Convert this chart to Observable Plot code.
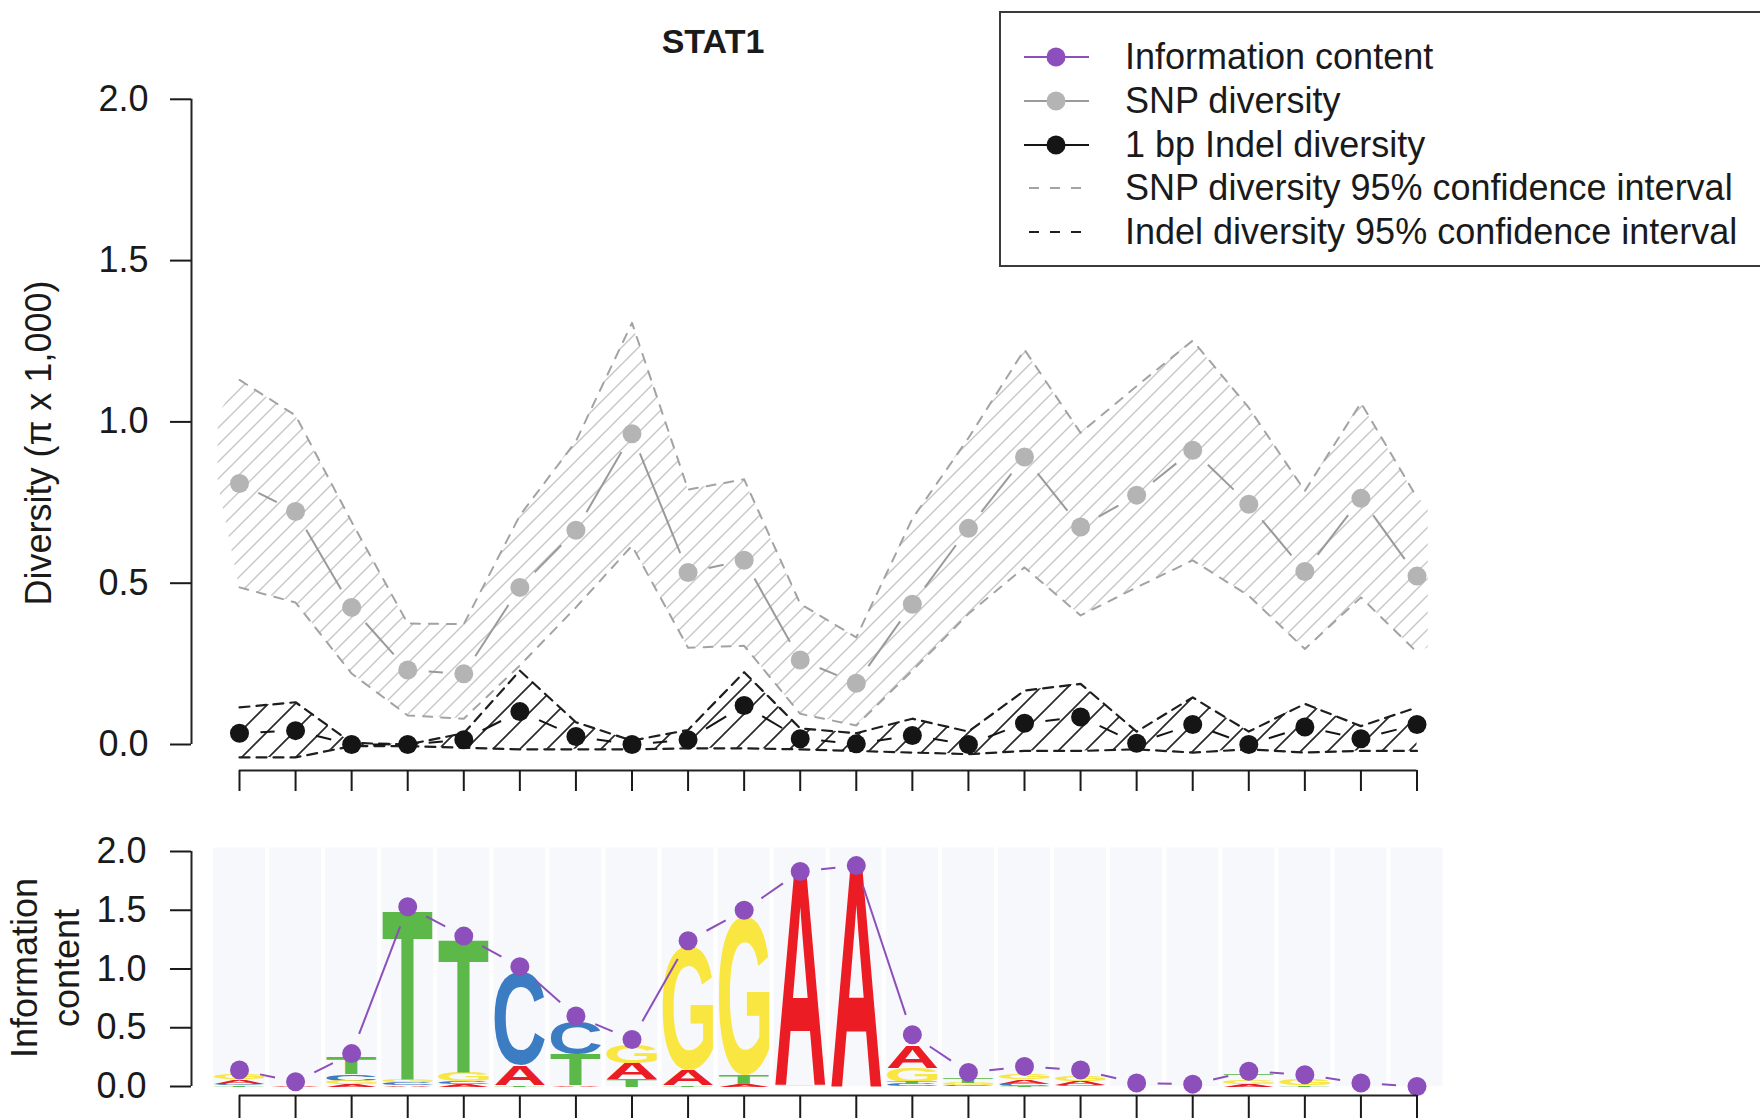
<!DOCTYPE html>
<html><head><meta charset="utf-8">
<script src="https://cdn.jsdelivr.net/npm/d3@7"></script>
<script src="https://cdn.jsdelivr.net/npm/@observablehq/plot@0.6"></script>
<style>
html,body{margin:0;padding:0;background:#fff;}
body{width:1760px;height:1118px;overflow:hidden;position:relative;font-family:"Liberation Sans",Arial,Helvetica,sans-serif;color:#1a1a1a;}
#top,#bottom{position:absolute;left:0;}
#top{top:0}
#bottom{top:800px}
#title{position:absolute;left:563px;width:300px;top:21px;text-align:center;font-weight:bold;font-size:34px;line-height:40px;}
.ytitle{position:absolute;text-align:center;font-size:36px;white-space:nowrap;transform:rotate(-90deg);}
#ytitleTop{left:-261px;top:423px;width:600px;height:40px;line-height:40px;}
#ytitleBottom{left:-154px;top:926px;width:400px;height:84px;line-height:42px;}
#legend{position:absolute;left:999px;top:11px;width:800px;height:256px;border:2px solid #3a3a3a;box-sizing:border-box;background:#fff;}
.row{position:absolute;left:0;height:40px;width:100%;}
.row svg{position:absolute;left:23px;top:0;}
.row span{position:absolute;left:124px;top:0;line-height:40px;font-size:36px;white-space:nowrap;}
</style></head>
<body>
<div id="title">STAT1</div>
<div id="top"></div><div id="bottom"></div>
<div class="ytitle" id="ytitleTop">Diversity (&pi; x 1,000)</div>
<div class="ytitle" id="ytitleBottom">Information<br>content</div>
<div id="legend"></div>
<script>
// ---------- data ----------
const positions = d3.range(1, 23);
const snpDiversity = [0.809, 0.722, 0.425, 0.231, 0.219, 0.487, 0.664, 0.963, 0.533, 0.571, 0.262, 0.190, 0.435, 0.670, 0.891, 0.674, 0.773, 0.912, 0.745, 0.536, 0.763, 0.522];
const snpUpper = [1.13, 1.02, 0.69, 0.375, 0.373, 0.71, 0.94, 1.307, 0.79, 0.822, 0.436, 0.332, 0.70, 0.95, 1.224, 0.966, 1.111, 1.252, 1.044, 0.786, 1.059, 0.765];
const snpLower = [0.487, 0.44, 0.22, 0.09, 0.08, 0.245, 0.425, 0.616, 0.30, 0.306, 0.095, 0.059, 0.229, 0.405, 0.549, 0.40, 0.487, 0.571, 0.461, 0.296, 0.456, 0.286];
// hatched SNP band reaches a little beyond the first and last positions
const snpBandEdgeX = [0.62, 22.2];
const snpBandEdgeLower = [0.81, 0.30];
const snpBandEdgeUpper = [1.02, 0.74];
const indelDiversity = [0.035, 0.043, 0.0, 0.0, 0.015, 0.102, 0.025, 0.0, 0.015, 0.121, 0.018, 0.002, 0.028, 0.0, 0.066, 0.085, 0.004, 0.062, 0.0, 0.054, 0.018, 0.062];
const indelUpper = [0.115, 0.131, 0.005, 0.0, 0.035, 0.229, 0.069, 0.012, 0.045, 0.224, 0.05, 0.035, 0.08, 0.04, 0.167, 0.188, 0.04, 0.146, 0.04, 0.126, 0.057, 0.115];
const indelLower = [-0.04, -0.04, -0.005, -0.005, -0.01, -0.015, -0.015, -0.015, -0.012, -0.012, -0.015, -0.02, -0.025, -0.03, -0.02, -0.02, -0.015, -0.025, -0.015, -0.025, -0.02, -0.02];
const infoContent = [0.14, 0.04, 0.28, 1.53, 1.28, 1.02, 0.60, 0.40, 1.24, 1.50, 1.83, 1.88, 0.44, 0.12, 0.17, 0.14, 0.03, 0.02, 0.13, 0.10, 0.03, 0.0];
// sequence-logo letter heights (bits) per position
const heightA = [0.035, 0.01, 0.02, 0.015, 0.02, 0.17, 0.015, 0.14, 0.13, 0.02, 1.82, 1.86, 0.19, 0, 0.035, 0.035, 0, 0, 0.025, 0, 0, 0];
const heightC = [0.015, 0, 0.06, 0.02, 0.025, 0.80, 0.28, 0, 0, 0, 0, 0, 0.02, 0.01, 0.02, 0.01, 0, 0, 0, 0, 0, 0];
const heightG = [0.045, 0, 0.03, 0.025, 0.08, 0, 0, 0.16, 1.05, 1.35, 0.015, 0, 0.12, 0.02, 0.045, 0.045, 0, 0, 0.035, 0.06, 0, 0];
const heightT = [0.01, 0, 0.145, 1.45, 1.14, 0.01, 0.26, 0.06, 0.01, 0.08, 0, 0, 0.02, 0.045, 0.005, 0, 0, 0, 0.04, 0.01, 0, 0];
const yTicks = [0, 0.5, 1.0, 1.5, 2.0];
const legendLabels = ["Information content", "SNP diversity", "1 bp Indel diversity", "SNP diversity 95% confidence interval", "Indel diversity 95% confidence interval"];

// ---------- styles ----------
const FONT = "'Liberation Sans', Arial, Helvetica, sans-serif";
const purple = "#8c4fbb", snpGray = "#b4b4b4", snpLine = "#9a9a9a", snpDash = "#a3a3a3", ink = "#151515";
const baseColors = {A: "#ec1c24", C: "#3b7cc3", G: "#f9e641", T: "#5cb848"};

// ---------- tables ----------
const snp = positions.map((p, i) => ({p, v: snpDiversity[i], lo: snpLower[i], hi: snpUpper[i]}));
const snpBand = [
  {p: snpBandEdgeX[0], lo: snpBandEdgeLower[0], hi: snpBandEdgeUpper[0]},
  ...snp,
  {p: snpBandEdgeX[1], lo: snpBandEdgeLower[1], hi: snpBandEdgeUpper[1]}
];
const indel = positions.map((p, i) => ({p, v: indelDiversity[i], lo: indelLower[i], hi: indelUpper[i]}));
const ic = positions.map((p, i) => ({p, v: infoContent[i]}));
const pairs = rows => d3.pairs(rows);
const segOpts = (stroke) => ({
  x1: d => d[0].p, y1: d => d[0].v, x2: d => d[1].p, y2: d => d[1].v,
  headLength: 0, insetStart: 21, insetEnd: 21, stroke, strokeWidth: 2, strokeLinecap: "butt"
});

const heights = {A: heightA, C: heightC, G: heightG, T: heightT};
const bases = ["A", "C", "G", "T"];
const letters = [];
positions.forEach((p, i) => {
  const items = bases.map(b => ({b, h: heights[b][i]})).filter(d => d.h > 0).sort((a, b) => a.h - b.h);
  let y = 0;
  for (const it of items) { letters.push({p, base: it.b, y0: y, y1: y + it.h}); y += it.h; }
});

// ---------- top chart ----------
const topChart = Plot.plot({
  width: 1760, height: 800,
  marginLeft: 191, marginRight: 343.5, marginTop: 98.8, marginBottom: 30,
  x: {domain: [1, 22], insetLeft: 48, axis: null},
  y: {domain: [0, 2], insetBottom: 26, axis: null},
  style: {fontFamily: FONT, fontSize: "36px", color: "#1a1a1a", background: "transparent", overflow: "visible"},
  marks: [
    Plot.areaY(snpBand, {x: "p", y1: "lo", y2: "hi", fill: "url(#hatchSNP)"}),
    Plot.lineY(snp, {x: "p", y: "hi", stroke: snpDash, strokeWidth: 2, strokeDasharray: "9,9"}),
    Plot.lineY(snp, {x: "p", y: "lo", stroke: snpDash, strokeWidth: 2, strokeDasharray: "9,9"}),
    Plot.areaY(indel, {x: "p", y1: "lo", y2: "hi", fill: "url(#hatchIndel)"}),
    Plot.lineY(indel, {x: "p", y: "hi", stroke: "#1e1e1e", strokeWidth: 2.2, strokeDasharray: "10,7"}),
    Plot.lineY(indel, {x: "p", y: "lo", stroke: "#1e1e1e", strokeWidth: 2.2, strokeDasharray: "10,7"}),
    Plot.arrow(pairs(snp), segOpts(snpLine)),
    Plot.dot(snp, {x: "p", y: "v", r: 9.5, fill: snpGray}),
    Plot.arrow(pairs(indel), segOpts(ink)),
    Plot.dot(indel, {x: "p", y: "v", r: 9.5, fill: ink}),
    Plot.ruleX([1], {y1: 0, y2: 2, dx: -48, strokeWidth: 2, stroke: "#222"}),
    Plot.axisY({ticks: yTicks, tickFormat: d3.format(".1f"), tickSize: 21, tickPadding: 22, strokeWidth: 2, label: null, fontSize: 36}),
    Plot.ruleY([0], {x1: 1, x2: 22, dy: 26, strokeWidth: 2, stroke: "#222"}),
    Plot.axisX({ticks: positions, tickSize: 21, tickFormat: () => "", strokeWidth: 2, label: null})
  ]
});

const ns = "http://www.w3.org/2000/svg";
function addPattern(svg, id, size, color, width) {
  let defs = svg.querySelector("defs");
  if (!defs) { defs = document.createElementNS(ns, "defs"); svg.insertBefore(defs, svg.firstChild); }
  const pat = document.createElementNS(ns, "pattern");
  pat.setAttribute("id", id);
  pat.setAttribute("patternUnits", "userSpaceOnUse");
  pat.setAttribute("width", size); pat.setAttribute("height", size);
  const path = document.createElementNS(ns, "path");
  const q = size / 4;
  path.setAttribute("d", `M${-q},${q}L${q},${-q}M0,${size}L${size},0M${size - q},${size + q}L${size + q},${size - q}`);
  path.setAttribute("stroke", color); path.setAttribute("stroke-width", width); path.setAttribute("fill", "none");
  pat.appendChild(path); defs.appendChild(pat);
}
addPattern(topChart, "hatchSNP", 17, "#c6c6c6", 1.4);
addPattern(topChart, "hatchIndel", 27, "#2a2a2a", 1.7);
document.getElementById("top").appendChild(topChart);

// ---------- bottom chart ----------
const logoMarks = bases.map(b => Plot.text(letters.filter(d => d.base === b), {
  x: "p", y: "y0", text: "base", fill: baseColors[b], fontSize: 100, fontWeight: "bold",
  fontFamily: FONT, textAnchor: "start", lineAnchor: "bottom"
}));
const bottomChart = Plot.plot({
  width: 1760, height: 318,
  marginLeft: 191, marginRight: 343.5, marginTop: 51, marginBottom: 23,
  x: {domain: [1, 22], insetLeft: 48, axis: null},
  y: {domain: [0, 2], insetBottom: 9, axis: null},
  style: {fontFamily: FONT, fontSize: "36px", color: "#1a1a1a", background: "transparent", overflow: "visible"},
  marks: [
    Plot.rect(positions, {x1: d => d - 0.5, x2: d => d + 0.5, y1: 0, y2: 2.03, insetLeft: 2, insetRight: 2, fill: "#f6f8fb"}),
    ...logoMarks,
    Plot.arrow(pairs(ic), segOpts(purple)),
    Plot.dot(ic, {x: "p", y: "v", r: 9.5, fill: purple}),
    Plot.ruleX([1], {y1: 0, y2: 2, dx: -48, strokeWidth: 2, stroke: "#222"}),
    Plot.axisY({ticks: yTicks, tickFormat: d3.format(".1f"), tickSize: 21, tickPadding: 24, strokeWidth: 2, label: null, fontSize: 36}),
    Plot.ruleY([0], {x1: 1, x2: 22, dy: 9, strokeWidth: 2, stroke: "#222"}),
    Plot.axisX({ticks: positions, tickSize: 25, tickFormat: () => "", strokeWidth: 2, label: null})
  ]
});
document.getElementById("bottom").appendChild(bottomChart);

// stretch each logo glyph so its ink fills its stacked cell (positions from Plot's scales)
(function stretchLetters() {
  const ctx = document.createElement("canvas").getContext("2d");
  ctx.font = "bold 100px 'Liberation Sans'";
  const xs = bottomChart.scale("x"), ys = bottomChart.scale("y");
  const groups = [...bottomChart.querySelectorAll("g")];
  for (const b of bases) {
    const col = baseColors[b].toLowerCase();
    const g = groups.find(g => (g.getAttribute("fill") || "").toLowerCase() === col && g.querySelector("text"));
    if (!g) continue;
    const data = letters.filter(d => d.base === b);
    const m = ctx.measureText(b);
    const l = m.actualBoundingBoxLeft, r = m.actualBoundingBoxRight;
    const a = m.actualBoundingBoxAscent, dsc = m.actualBoundingBoxDescent;
    g.querySelectorAll("text").forEach((t, k) => {
      const d = data[k]; if (!d) return;
      const xL = xs.apply(d.p - 0.45), xR = xs.apply(d.p + 0.45);
      const yB = ys.apply(d.y0), yT = ys.apply(d.y1);
      const sx = (xR - xL) / (l + r), sy = Math.max(0.0001, (yB - yT) / (a + dsc));
      t.removeAttribute("x"); t.removeAttribute("y"); t.removeAttribute("dy");
      t.setAttribute("text-anchor", "start");
      t.setAttribute("font-size", "100");
      t.setAttribute("transform", `translate(${xL},${yT}) scale(${sx},${sy}) translate(${l},${a})`);
    });
  }
})();

// ---------- legend ----------
const legend = document.getElementById("legend");
const symbols = [
  `<line x1="0" y1="20" x2="65" y2="20" stroke="${purple}" stroke-width="2"/><circle cx="32" cy="20" r="9.5" fill="${purple}"/>`,
  `<line x1="0" y1="20" x2="65" y2="20" stroke="${snpLine}" stroke-width="2"/><circle cx="32" cy="20" r="9.5" fill="${snpGray}"/>`,
  `<line x1="0" y1="20" x2="65" y2="20" stroke="${ink}" stroke-width="2"/><circle cx="32" cy="20" r="9.5" fill="${ink}"/>`,
  `<line x1="5" y1="20" x2="65" y2="20" stroke="${snpDash}" stroke-width="2" stroke-dasharray="10,11"/>`,
  `<line x1="5" y1="20" x2="65" y2="20" stroke="#1e1e1e" stroke-width="2.2" stroke-dasharray="10,11"/>`
];
legendLabels.forEach((lab, i) => {
  const row = document.createElement("div");
  row.className = "row";
  row.style.top = (24 + i * 43.8) + "px";
  row.innerHTML = `<svg width="70" height="40">${symbols[i]}</svg><span>${lab}</span>`;
  legend.appendChild(row);
});
</script>
</body></html>
